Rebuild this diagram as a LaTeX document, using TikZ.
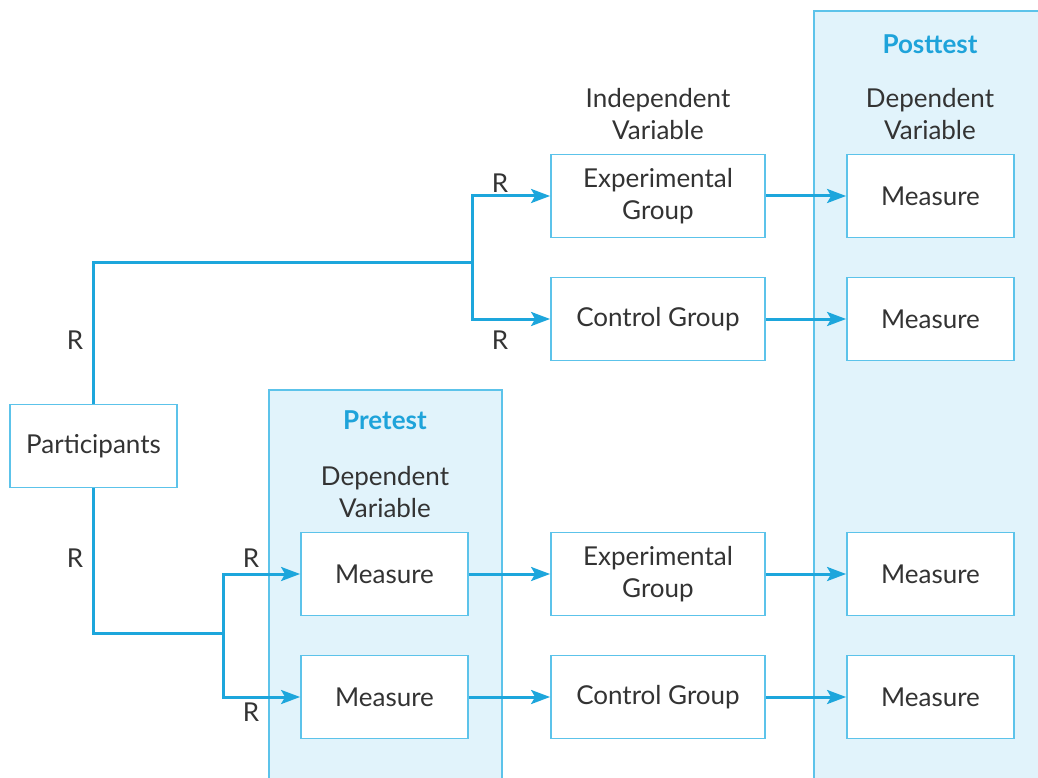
\documentclass[tikz,border=0pt]{standalone}
\usepackage{fontspec}
\setmainfont{Lato}
\usetikzlibrary{arrows.meta}
\definecolor{flow}{HTML}{1DA6DC}
\definecolor{edgeblue}{HTML}{5CC3EA}
\definecolor{panelfill}{HTML}{E1F3FB}
\definecolor{ink}{HTML}{333333}
\definecolor{headblue}{HTML}{1EA3DA}

\begin{document}
\begin{tikzpicture}[x=1pt,y=-1pt,
  txt/.style={text=ink, font=\fontsize{26}{32}\selectfont, align=center, inner sep=0},
  title/.style={text=headblue, font=\fontsize{26}{30}\selectfont\bfseries, inner sep=0},
  box/.style={txt, draw=edgeblue, line width=1.8pt, fill=white},
  groupbox/.style={box, minimum width=214pt, minimum height=83pt},
  measurebox/.style={box, minimum width=167pt, minimum height=83pt},
  panel/.style={draw=edgeblue, line width=1.8pt, fill=panelfill, anchor=north west, inner sep=0},
  link/.style={draw=flow, line width=3pt},
  arrow/.style={link, -{Stealth[length=19pt,width=14pt,inset=4pt]}},
  rlabel/.style={txt}
]
\useasboundingbox (0,0) rectangle (1038,778);

% shaded phase panels
\node[panel, minimum width=233pt, minimum height=400pt] (pretest) at (268,389) {};
\node[panel, minimum width=240pt, minimum height=780pt] (posttest) at (813,10) {};

% headings
\node[title] (posttitle) at (930,44) {Posttest};
\node[txt] (postdv) at (930,114) {Dependent\\Variable};
\node[title] (pretitle) at (385,420) {Pretest};
\node[txt] (predv) at (385,492) {Dependent\\Variable};
\node[txt] (iv) at (658,114) {Independent\\Variable};

% boxes
\node[measurebox] (part) at (93.5,446) {Participants};

\node[groupbox] (egA) at (658,196) {Experimental\\Group};
\node[groupbox] (cgA) at (658,319) {Control Group};
\node[measurebox] (postA1) at (930.5,196) {Measure};
\node[measurebox] (postA2) at (930.5,319) {Measure};

\node[measurebox] (preB1) at (384.5,574) {Measure};
\node[measurebox] (preB2) at (384.5,697) {Measure};
\node[groupbox] (egB) at (658,574) {Experimental\\Group};
\node[groupbox] (cgB) at (658,697) {Control Group};
\node[measurebox] (postB1) at (930.5,574) {Measure};
\node[measurebox] (postB2) at (930.5,697) {Measure};

% branching points
\coordinate (splitA) at (472,262);
\coordinate (splitB) at (223,633);

% connectors
\draw[link] (part.north) |- (splitA);
\draw[arrow] (splitA) |- (egA.west);
\draw[arrow] (splitA) |- (cgA.west);
\draw[arrow] (egA.east) -- (postA1.west);
\draw[arrow] (cgA.east) -- (postA2.west);

\draw[link] (part.south) |- (splitB);
\draw[arrow] (splitB) |- (preB1.west);
\draw[arrow] (splitB) |- (preB2.west);
\draw[arrow] (preB1.east) -- (egB.west);
\draw[arrow] (preB2.east) -- (cgB.west);
\draw[arrow] (egB.east) -- (postB1.west);
\draw[arrow] (cgB.east) -- (postB2.west);

% random assignment marks
\node[rlabel] (r1) at (75,340) {R};
\node[rlabel] (r2) at (75,558) {R};
\node[rlabel] (r3) at (500,183) {R};
\node[rlabel] (r4) at (500,340) {R};
\node[rlabel] (r5) at (251,558) {R};
\node[rlabel] (r6) at (251,712) {R};
\end{tikzpicture}
\end{document}
